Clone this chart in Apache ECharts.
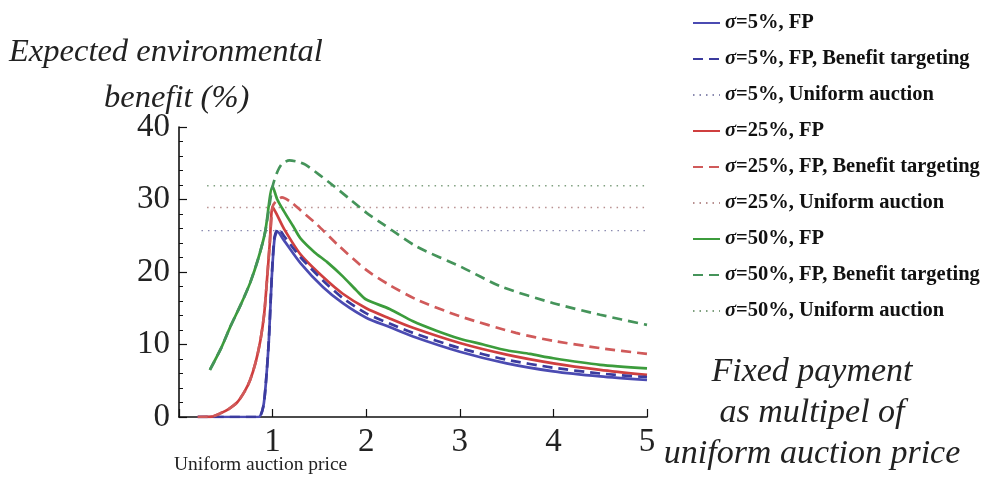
<!DOCTYPE html>
<html><head><meta charset="utf-8">
<script src="https://cdn.jsdelivr.net/npm/echarts@6/dist/echarts.min.js"></script>
<style>html,body{margin:0;padding:0;background:#fff}#c{width:990px;height:477px}</style>
</head><body><div id="c"></div>
<script>
// ---------- data ----------
const legendNames = [
  'σ=5%, FP', 'σ=5%, FP, Benefit targeting', 'σ=5%, Uniform auction',
  'σ=25%, FP', 'σ=25%, FP, Benefit targeting', 'σ=25%, Uniform auction',
  'σ=50%, FP', 'σ=50%, FP, Benefit targeting', 'σ=50%, Uniform auction'
];
const xTicks = [1, 2, 3, 4, 5];
const yTicks = [0, 10, 20, 30, 40];

// sigma = 5%
const blueFP_x = [0.2, 0.85, 0.9, 0.93, 0.96, 0.99, 1.02, 1.05, 1.12, 1.3, 1.54, 1.75, 2.0, 2.25, 2.5, 3.0, 3.5, 4.0, 4.5, 5.0];
const blueFP_y = [0, 0, 1.4, 5.0, 10.6, 19.0, 24.5, 25.6, 24.4, 21.2, 17.9, 15.7, 13.7, 12.4, 11.1, 9.0, 7.4, 6.3, 5.6, 5.1];
const blueBT_x = [0.2, 0.85, 0.9, 0.93, 0.96, 0.99, 1.02, 1.06, 1.12, 1.3, 1.54, 1.75, 2.0, 2.25, 2.5, 3.0, 3.5, 4.0, 4.5, 5.0];
const blueBT_y = [0, 0, 1.4, 5.0, 10.6, 19.0, 24.8, 26.0, 25.0, 22.0, 18.8, 16.4, 14.3, 12.9, 11.6, 9.5, 7.9, 6.8, 6.0, 5.5];
const blueUA_x = [0.24, 5.0];
const blueUA_y = [25.7, 25.7];

// sigma = 25%
const redFP_x = [0.2, 0.35, 0.44, 0.53, 0.62, 0.7, 0.76, 0.82, 0.87, 0.91, 0.94, 0.97, 1.0, 1.05, 1.12, 1.3, 1.54, 1.75, 2.0, 2.25, 2.5, 3.0, 3.5, 4.0, 4.5, 5.0];
const redFP_y = [0, 0.05, 0.5, 1.1, 2.0, 3.5, 5.1, 7.6, 10.6, 14.2, 18.9, 24.0, 29.0, 27.8, 26.0, 22.4, 19.3, 17.0, 15.0, 13.6, 12.3, 10.2, 8.6, 7.4, 6.5, 5.8];
const redBT_x = [0.2, 0.35, 0.44, 0.53, 0.62, 0.7, 0.76, 0.82, 0.87, 0.91, 0.94, 0.97, 1.0, 1.04, 1.1, 1.2, 1.3, 1.47, 1.7, 2.0, 2.25, 2.54, 3.0, 3.6, 4.0, 4.5, 5.0];
const redBT_y = [0, 0.05, 0.5, 1.1, 2.0, 3.5, 5.1, 7.6, 10.6, 14.2, 18.9, 24.0, 29.0, 29.8, 30.3, 29.6, 28.5, 26.6, 23.7, 20.3, 18.2, 16.2, 13.9, 11.6, 10.5, 9.5, 8.7];
const redUA_x = [0.3, 5.0];
const redUA_y = [28.9, 28.9];

// sigma = 50%
const greenFP_x = [0.33, 0.45, 0.55, 0.66, 0.76, 0.85, 0.92, 1.0, 1.05, 1.12, 1.22, 1.3, 1.45, 1.58, 1.75, 1.9, 2.0, 2.25, 2.5, 2.75, 3.0, 3.25, 3.5, 3.75, 4.0, 4.5, 5.0];
const greenFP_y = [6.5, 9.5, 12.5, 15.5, 18.5, 22.0, 25.5, 31.8, 30.0, 28.4, 26.3, 24.6, 22.7, 21.4, 19.4, 17.4, 16.2, 14.9, 13.2, 11.9, 10.8, 10.0, 9.2, 8.7, 8.1, 7.2, 6.7];
const greenBT_x = [0.33, 0.45, 0.55, 0.66, 0.76, 0.85, 0.92, 1.0, 1.05, 1.1, 1.18, 1.27, 1.35, 1.5, 1.65, 1.83, 2.0, 2.18, 2.54, 3.0, 3.44, 4.0, 4.5, 5.0];
const greenBT_y = [6.5, 9.5, 12.5, 15.5, 18.5, 22.0, 25.5, 31.8, 33.8, 34.9, 35.4, 35.2, 34.8, 33.4, 31.9, 30.0, 28.2, 26.6, 23.5, 20.8, 18.0, 15.7, 14.1, 12.7];
const greenUA_x = [0.3, 5.0];
const greenUA_y = [31.9, 31.9];

// ---------- build ----------
const pairs = (xs, ys) => xs.map((x, i) => [x, ys[i]]);
const C = {
  blue: '#4b4bb2', blueD: '#3b3b9e', blueU: '#8a8ab0',
  red: '#cf3f3f', redD: '#d05a5a', redU: '#b89090',
  green: '#3c9c3c', greenD: '#45945a', greenU: '#7fa07f'
};
function solid(name, xs, ys, color) {
  return { name, type: 'line', data: pairs(xs, ys), symbol: 'none', smooth: 0.25,
    lineStyle: { color, width: 2.7 }, itemStyle: { color }, silent: true };
}
function dashed(name, xs, ys, color) {
  return { name, type: 'line', data: pairs(xs, ys), symbol: 'none', smooth: 0.25,
    lineStyle: { color, width: 2.7, type: [10, 6] }, itemStyle: { color }, silent: true };
}
function dotted(name, xs, ys, color) {
  return { name, type: 'line', data: pairs(xs, ys), symbol: 'none',
    lineStyle: { color, width: 1.3, type: [1.5, 5] }, itemStyle: { color }, silent: true };
}

const series = [
  dotted(legendNames[2], blueUA_x, blueUA_y, C.blueU),
  dotted(legendNames[5], redUA_x, redUA_y, C.redU),
  dotted(legendNames[8], greenUA_x, greenUA_y, C.greenU),
  solid(legendNames[0], blueFP_x, blueFP_y, C.blue),
  solid(legendNames[3], redFP_x, redFP_y, C.red),
  solid(legendNames[6], greenFP_x, greenFP_y, C.green),
  dashed(legendNames[1], blueBT_x, blueBT_y, C.blueD),
  dashed(legendNames[4], redBT_x, redBT_y, C.redD),
  dashed(legendNames[7], greenBT_x, greenBT_y, C.greenD)
];

const serif = "'Liberation Serif', 'DejaVu Serif', serif";
const chart = echarts.init(document.getElementById('c'), null, { renderer: 'canvas' });
chart.setOption({
  backgroundColor: '#ffffff',
  animation: false,
  grid: { left: 179, right: 343, top: 127, bottom: 60, containLabel: false },
  xAxis: {
    type: 'value', min: 0, max: 5, interval: 1,
    axisLine: { show: true, onZero: false, lineStyle: { color: '#111', width: 1.6 } },
    axisTick: { show: true, inside: true, length: 8, lineStyle: { color: '#111', width: 1.2 } },
    axisLabel: { margin: 9, fontFamily: serif, fontSize: 33, color: '#222',
      formatter: v => (xTicks.indexOf(v) >= 0 ? String(v) : '') },
    splitLine: { show: false }
  },
  yAxis: {
    type: 'value', min: 0, max: 40, interval: 10,
    axisLine: { show: true, lineStyle: { color: '#111', width: 1.6 } },
    axisTick: { show: true, inside: true, length: 8, lineStyle: { color: '#111', width: 1.2 } },
    minorTick: { show: true, splitNumber: 5, length: 4, lineStyle: { color: '#111', width: 1 } },
    axisLabel: { margin: 9, fontFamily: serif, fontSize: 33, color: '#222',
      formatter: v => (yTicks.indexOf(v) >= 0 ? String(v) : '') },
    splitLine: { show: false }
  },
  legend: {
    orient: 'vertical', left: 687, top: 6,
    itemWidth: 27, itemHeight: 14, itemGap: 12,
    data: legendNames,
    selectedMode: false,
    itemStyle: { opacity: 0 },
    formatter: n => '{s|σ}{b|' + n.slice(1) + '}',
    textStyle: {
      fontSize: 20.5, lineHeight: 24,
      rich: {
        s: { fontFamily: serif, fontStyle: 'italic', fontWeight: 'bold', fontSize: 20.5, lineHeight: 24, color: '#111' },
        b: { fontFamily: serif, fontWeight: 'bold', fontSize: 20.5, lineHeight: 24, color: '#111' }
      }
    }
  },
  graphic: [
    { type: 'text', left: 9, top: 36, style: { text: 'Expected environmental', fontFamily: serif, fontStyle: 'italic', fontSize: 32.5, fill: '#222' } },
    { type: 'text', left: 104, top: 82, style: { text: 'benefit (%)', fontFamily: serif, fontStyle: 'italic', fontSize: 32.5, fill: '#222' } },
    { type: 'text', left: 174, top: 455, style: { text: 'Uniform auction price', fontFamily: serif, fontSize: 19.5, fill: '#222' } },
    { type: 'text', x: 812, y: 352, style: { text: 'Fixed payment\nas multipel of\nuniform auction price', align: 'center', fontFamily: serif, fontStyle: 'italic', fontSize: 34, lineHeight: 41, fill: '#222' } }
  ],
  series
});
</script>
</body></html>
